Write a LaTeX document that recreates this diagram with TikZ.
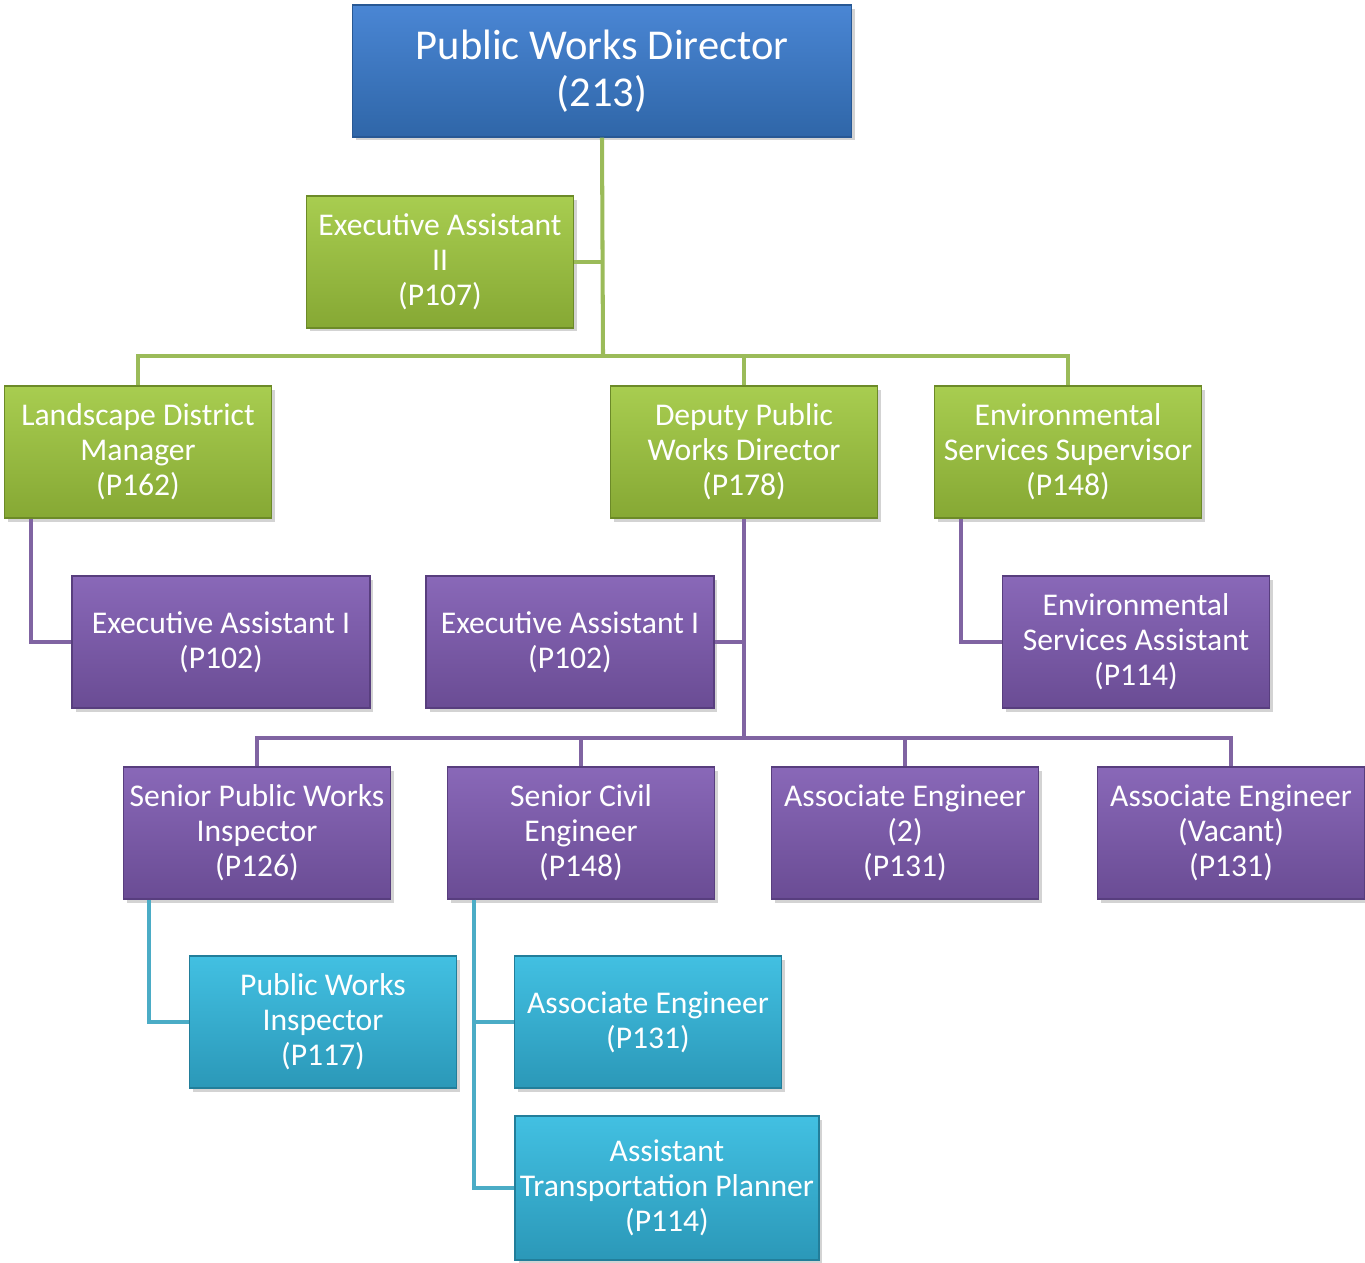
\documentclass[tikz,border=0pt]{standalone}
\usepackage{fontspec}
\setmainfont{Carlito}
\usetikzlibrary{shadows, positioning, calc}
\definecolor{pw_blue_top}{RGB}{74, 134, 212}
\definecolor{pw_blue_bot}{RGB}{47, 102, 168}
\definecolor{pw_blue_edge}{RGB}{40, 88, 148}
\definecolor{pw_green_top}{RGB}{168, 205, 80}
\definecolor{pw_green_bot}{RGB}{134, 168, 52}
\definecolor{pw_green_edge}{RGB}{108, 138, 40}
\definecolor{pw_purple_top}{RGB}{137, 104, 184}
\definecolor{pw_purple_bot}{RGB}{106, 76, 148}
\definecolor{pw_purple_edge}{RGB}{88, 62, 126}
\definecolor{pw_cyan_top}{RGB}{66, 192, 226}
\definecolor{pw_cyan_bot}{RGB}{43, 152, 184}
\definecolor{pw_cyan_edge}{RGB}{34, 126, 154}
\definecolor{pw_gline}{RGB}{155, 187, 89}
\definecolor{pw_pline}{RGB}{128, 100, 162}
\definecolor{pw_cline}{RGB}{75, 172, 198}
\tikzset {
  post/.style = {rectangle, draw, line width=0.8pt, text=white, align=center, inner sep=0pt,
                 minimum width=5.34cm, minimum height=2.64cm, font=\fontsize{18}{19.9}\selectfont,
                 drop shadow={shadow xshift=2pt, shadow yshift=-2pt, opacity=0.35}},
  topbox/.style = {post, top color=pw_blue_top, bottom color=pw_blue_bot, draw=pw_blue_edge,
                   minimum width=9.98cm, font=\fontsize{24.2}{26.8}\selectfont},
  greenbox/.style = {post, top color=pw_green_top, bottom color=pw_green_bot, draw=pw_green_edge},
  purplebox/.style = {post, top color=pw_purple_top, bottom color=pw_purple_bot, draw=pw_purple_edge},
  cyanbox/.style = {post, top color=pw_cyan_top, bottom color=pw_cyan_bot, draw=pw_cyan_edge},
  gline/.style = {line width=2.3pt, color=pw_gline},
  pline/.style = {line width=2.3pt, color=pw_pline},
  cline/.style = {line width=2.3pt, color=pw_cline}
}

\begin{document}
\begin{tikzpicture}[x=0.02cm, y=-0.02cm]
    \useasboundingbox (0,0) rectangle (1365,1263);

    % top of the chart
    \node[topbox] (dir) at (602,71) {Public Works Director\\(213)};
    \node[greenbox] (eaii) at (440,262) {Executive Assistant\\II\\(P107)};

    % second level
    \node[greenbox] (ldm) at (138,452) {Landscape District\\Manager\\(P162)};
    \node[greenbox] (dep) at (744,452) {Deputy Public\\Works Director\\(P178)};
    \node[greenbox] (ess) at (1068,452) {Environmental\\Services Supervisor\\(P148)};

    \node[purplebox, minimum width=5.96cm] (eail) at (221,642) {Executive Assistant I\\(P102)};
    \node[purplebox, minimum width=5.76cm] (eaim) at (570,642) {Executive Assistant I\\(P102)};
    \node[purplebox] (esa) at (1136,642) {Environmental\\Services Assistant\\(P114)};

    % under the deputy
    \node[purplebox] (spwi) at (257,833) {Senior Public Works\\Inspector\\(P126)};
    \node[purplebox] (sce) at (581,833) {Senior Civil\\Engineer\\(P148)};
    \node[purplebox] (aetwo) at (905,833) {Associate Engineer\\(2)\\(P131)};
    \node[purplebox] (aevac) at (1231,833) {Associate Engineer\\(Vacant)\\(P131)};

    \node[cyanbox] (pwi) at (323,1022) {Public Works\\Inspector\\(P117)};
    \node[cyanbox] (aeng) at (648,1022) {Associate Engineer\\(P131)};
    \node[cyanbox, minimum width=6.08cm, minimum height=2.88cm] (atp) at (667,1188) {Assistant\\Transportation Planner\\(P114)};

    \coordinate (busA) at (603,356);
    \coordinate (busB) at (744,738);

    \begin{scope}[on background layer/.try]
    \draw[gline] (dir.south) -- (busA);
    \draw[gline] (eaii.east) -- (eaii.east -| dir.south);
    \draw[gline] (ldm.north) |- (busA) -| (ess.north);
    \draw[gline] (dep.north) -- (dep.north |- busA);

    \draw[pline] ($(ldm.south west)+(27,0)$) |- (eail.west);
    \draw[pline] ($(ess.south west)+(27,0)$) |- (esa.west);
    \draw[pline] (dep.south) -- (busB);
    \draw[pline] (eaim.east) -- (eaim.east -| dep.south);
    \draw[pline] (spwi.north) |- (busB) -| (aevac.north);
    \draw[pline] (sce.north) -- (sce.north |- busB);
    \draw[pline] (aetwo.north) -- (aetwo.north |- busB);

    \draw[cline] ($(spwi.south west)+(26,0)$) |- (pwi.west);
    \draw[cline] ($(sce.south west)+(27,0)$) |- (atp.west);
    \draw[cline] ($(sce.south west)+(27,0)$) |- (aeng.west);
    \end{scope}
\end{tikzpicture}
\end{document}
